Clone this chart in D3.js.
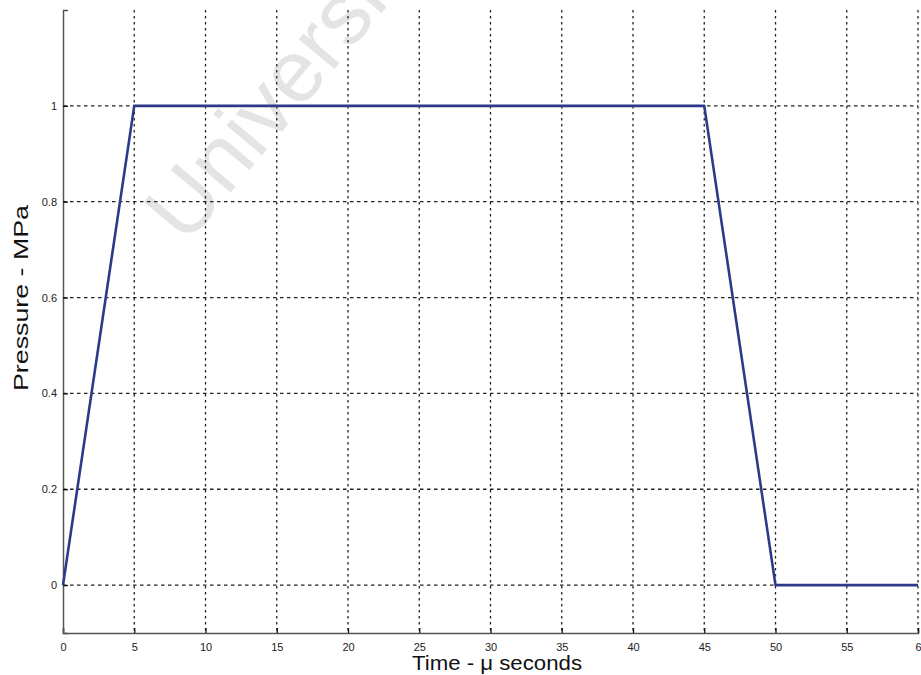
<!DOCTYPE html>
<html>
<head>
<meta charset="utf-8">
<script src="https://cdn.jsdelivr.net/npm/d3@7"></script>
<style>
  body { margin: 0; background: #fff; }
  svg { display: block; font-family: "Liberation Sans", Arial, sans-serif; }
</style>
</head>
<body>
<svg id="chart"></svg>
<script>
// pressure pulse
const timeUs = [0, 5, 45, 50, 60];
const pressureMPa = [0, 1, 1, 0, 0];
const xTicks = [0, 5, 10, 15, 20, 25, 30, 35, 40, 45, 50, 55, 60];
const yTicks = [0, 0.2, 0.4, 0.6, 0.8, 1];

const width = 921, height = 675;
const margin = { top: 10, right: 3, bottom: 42, left: 63 };

const svg = d3.select('#chart')
  .attr('width', width)
  .attr('height', height);

const x = d3.scaleLinear()
  .domain([0, 60])
  .range([margin.left, width - margin.right]);

const y = d3.scaleLinear()
  .domain([-0.1, 1.2])
  .range([height - margin.bottom, margin.top]);

// faint watermark across the plot
svg.append('text')
  .attr('transform', 'translate(186,246) rotate(-50)')
  .attr('fill', '#e4e4e4')
  .style('font-size', '88px')
  .text('University of Cape Town');

// dotted grid
svg.append('g')
  .selectAll('line')
  .data(xTicks.filter(d => d > 0))
  .enter()
  .append('line')
  .attr('x1', d => x(d)).attr('x2', d => x(d))
  .attr('y1', y(1.2)).attr('y2', y(-0.1))
  .attr('stroke', '#222')
  .attr('stroke-width', 1.3)
  .attr('stroke-dasharray', '2.5,3.5');

svg.append('g')
  .selectAll('line')
  .data(yTicks)
  .enter()
  .append('line')
  .attr('x1', x(0)).attr('x2', x(60))
  .attr('y1', d => y(d)).attr('y2', d => y(d))
  .attr('stroke', '#222')
  .attr('stroke-width', 1.3)
  .attr('stroke-dasharray', '3.5,3.5');

// axes, ticks pointing inward like the original
const xAxis = svg.append('g')
  .attr('transform', `translate(0,${y(-0.1)})`)
  .call(d3.axisBottom(x).tickValues(xTicks).tickSize(-5).tickPadding(10));

const yAxis = svg.append('g')
  .attr('transform', `translate(${x(0)},0)`)
  .call(d3.axisLeft(y).tickValues(yTicks).tickSize(-5).tickPadding(6)
    .tickFormat(d => d3.format('~g')(d)));

[xAxis, yAxis].forEach(g => {
  g.select('.domain').attr('stroke', '#555').attr('stroke-width', 1.5);
  g.selectAll('.tick line').attr('stroke', '#111').attr('stroke-width', 1.3);
  g.selectAll('.tick text')
    .attr('fill', '#222')
    .style('font-size', '11px')
    .style('font-family', '"Liberation Sans", Arial, sans-serif');
});

// the last x label sits on the window edge, as in the original
xAxis.selectAll('.tick text').filter(d => d === 60).attr('text-anchor', 'start').attr('dx', '-3');

// the pulse
svg.append('path')
  .datum(timeUs.map((t, i) => [t, pressureMPa[i]]))
  .attr('fill', 'none')
  .attr('stroke', '#2c3a8a')
  .attr('stroke-width', 2.6)
  .attr('stroke-linejoin', 'round')
  .attr('d', d3.line().x(d => x(d[0])).y(d => y(d[1])));

// axis labels
svg.append('text')
  .attr('x', 497)
  .attr('y', 670)
  .attr('text-anchor', 'middle')
  .attr('fill', '#111')
  .attr('textLength', 170)
  .attr('lengthAdjust', 'spacingAndGlyphs')
  .style('font-size', '20px')
  .text('Time - μ seconds');

svg.append('text')
  .attr('transform', 'translate(28,298) rotate(-90)')
  .attr('text-anchor', 'middle')
  .attr('fill', '#111')
  .attr('textLength', 186)
  .attr('lengthAdjust', 'spacingAndGlyphs')
  .style('font-size', '21px')
  .text('Pressure - MPa');
</script>
</body>
</html>
